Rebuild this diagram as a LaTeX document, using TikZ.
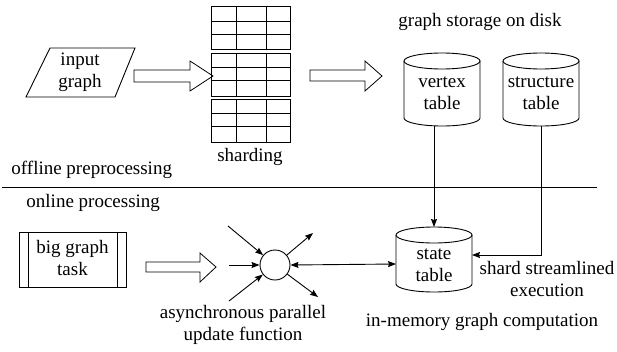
\documentclass[tikz,border=0pt]{standalone}
\usepackage{fontspec}
\setmainfont{Liberation Serif}
\usetikzlibrary{arrows.meta}
\begin{document}
\begin{tikzpicture}[x=1pt,y=-1pt,line width=0.9pt,
  txt/.style={font=\fontsize{19}{22}\selectfont, inner sep=0pt, align=center},
  arr/.style={-{Stealth[length=8pt,width=6pt,inset=1pt]}},
  darr/.style={{Stealth[length=8pt,width=6pt,inset=1pt]}-{Stealth[length=8pt,width=6pt,inset=1pt]}},
  hollow/.style={draw, fill=white, line width=0.8pt},
  shard/.style={draw, minimum width=79pt, minimum height=43pt, inner sep=0pt}]
\useasboundingbox (0,0) rectangle (617,351);

% input graph parallelogram
\draw (50,48) -- (135,48) -- (115,97) -- (26,97) -- cycle;
\node[txt] (ig) at (80,72) {input\\graph};

% hollow arrow 1
\draw[hollow] (134,70) -- (190,70) -- (190,61) -- (213,76) -- (190,91) -- (190,82) -- (134,82) -- cycle;

% shard tables
\foreach \n/\yc in {1/28,2/74.5,3/120.5}{
  \node[shard] (t\n) at (250.5,\yc) {};
  \draw (236,\yc-21.5) -- (236,\yc+21.5);
  \draw (266,\yc-21.5) -- (266,\yc+21.5);
  \draw (211,\yc-7) -- (290,\yc-7);
  \draw (211,\yc+6) -- (290,\yc+6);
}
\node[txt] (sh) at (250,157) {sharding};
\node[txt, anchor=west] (off) at (11,170) {offline preprocessing};

% hollow arrow 2
\draw[hollow] (310,70) -- (365,70) -- (365,61) -- (382,76) -- (365,91) -- (365,81) -- (310,81) -- cycle;

\node[txt] (gs) at (480,22) {graph storage on disk};

% vertex table cylinder
\draw (442,61) ellipse[x radius=38, y radius=8];
\draw (404,61) -- (404,118) arc[start angle=180, end angle=0, x radius=38, y radius=8] -- (480,61);
\node[txt] (vt) at (442,93) {vertex\\table};

% structure table cylinder
\draw (541,61) ellipse[x radius=38, y radius=8];
\draw (503,61) -- (503,118) arc[start angle=180, end angle=0, x radius=38, y radius=8] -- (579,61);
\node[txt] (st) at (541,93) {structure\\table};

% separator
\draw (2,187) -- (597,187);
\node[txt, anchor=west] (on) at (26,203) {online processing};

% big graph task
\node[draw, minimum width=107pt, minimum height=55pt, inner sep=0pt] (bg) at (72.5,259.5) {};
\draw (28,232) -- (28,287);
\draw (117,232) -- (117,287);
\node[txt] (bgt) at (72.5,258) {big graph\\task};

% hollow arrow 3
\draw[hollow] (146,262) -- (200,262) -- (200,253) -- (216,267) -- (200,282) -- (200,272) -- (146,272) -- cycle;

% update function circle
\node[draw, circle, minimum size=30pt, inner sep=0pt] (f) at (275,265) {};
\coordinate (i1) at (228,226);
\coordinate (i2) at (229,265);
\coordinate (i3) at (229,301);
\coordinate (o1) at (313,233);
\coordinate (o2) at (318,297);
\draw[arr] (i1) -- (f);
\draw[arr] (i2) -- (f);
\draw[arr] (i3) -- (f);
\draw[arr] (f) -- (o1);
\draw[arr] (f) -- (o2);
\node[txt] (af) at (243,325) {asynchronous parallel\\update function};

% state table cylinder
\draw (434,235) ellipse[x radius=38, y radius=8];
\draw (396,235) -- (396,284) arc[start angle=180, end angle=0, x radius=38, y radius=8] -- (472,235);
\node[txt] (stt) at (434,265) {state\\table};

% connectors
\coordinate (vbot) at (434,126);
\coordinate (stop) at (434,227);
\draw[arr] (vbot) -- (stop);
\coordinate (sbot) at (541,126);
\coordinate (sright) at (472,255);
\draw[arr] (sbot) |- (sright);
\coordinate (sleft) at (396,264);
\draw[darr] (f.east) -- (sleft);

\node[txt] (sse) at (547,279) {shard streamlined\\execution};
\node[txt] (imc) at (482,322) {in-memory graph computation};
\end{tikzpicture}
\end{document}
